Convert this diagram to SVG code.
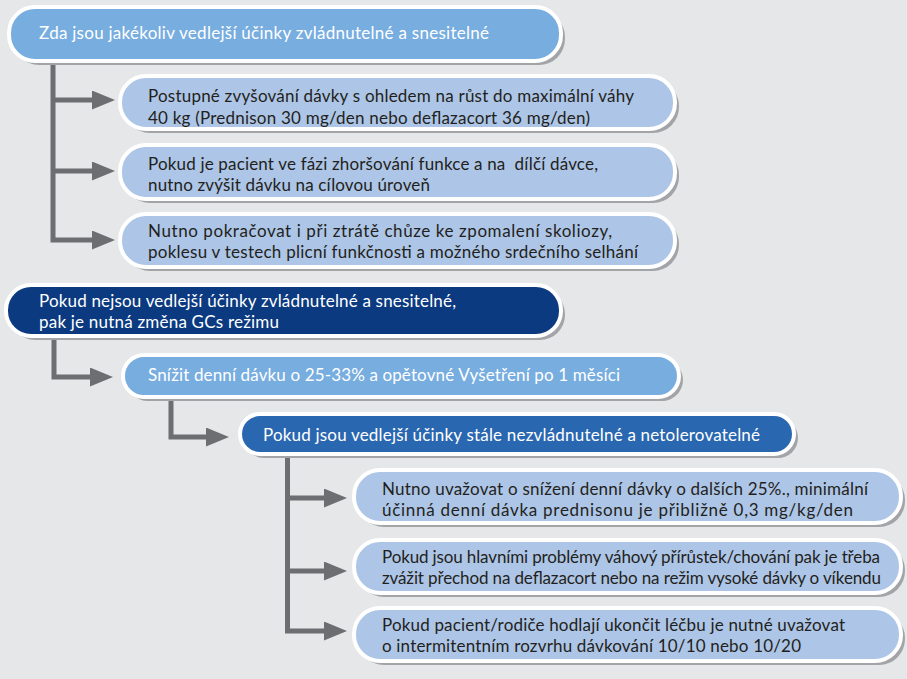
<svg xmlns="http://www.w3.org/2000/svg" width="907" height="679" viewBox="0 0 907 679">
<style>
  .bg { fill: #e6e7e8; }
  .shadow { fill: #a2a4a7; }
  .box { stroke: #ffffff; stroke-width: 4; }
  .light { fill: #77addf; }
  .pale { fill: #adc5e6; }
  .navy { fill: #0b3a80; }
  .mid { fill: #2a67b1; }
  text { font-family: Lato, "Liberation Sans", Arial, sans-serif; font-size: 17px; }
  .tw { fill: #ffffff; }
  .td { fill: #231f20; }
  .conn { fill: none; stroke: #6d6e71; stroke-width: 5; }
</style>
<defs>
  <marker id="arr" viewBox="0 0 23 19" refX="8" refY="9.5" markerWidth="23" markerHeight="19" markerUnits="userSpaceOnUse" orient="auto">
    <path d="M0,0 L23,9.5 L0,19 Z" fill="#6d6e71"/>
  </marker>
</defs>
<rect class="bg" x="0" y="0" width="907" height="679"/>

<g id="connectors">
  <path class="conn" d="M53,63 V240 H100" marker-end="url(#arr)"/>
  <path class="conn" d="M53,100 H100" marker-end="url(#arr)"/>
  <path class="conn" d="M53,171 H100" marker-end="url(#arr)"/>
  <path class="conn" d="M54,338 V377 H98" marker-end="url(#arr)"/>
  <path class="conn" d="M171,399 V437 H214" marker-end="url(#arr)"/>
  <path class="conn" d="M287.5,456 V631 H332" marker-end="url(#arr)"/>
  <path class="conn" d="M287.5,498 H332" marker-end="url(#arr)"/>
  <path class="conn" d="M287.5,571 H332" marker-end="url(#arr)"/>
</g>

<g id="n1">
  <rect class="shadow" x="13" y="11" width="552" height="54" rx="26"/>
  <rect class="box light" x="9" y="7" width="552" height="54" rx="26"/>
  <text class="tw" x="39" y="39" textLength="450">Zda jsou jakékoliv vedlejší účinky zvládnutelné a snesitelné</text>
</g>

<g id="n2">
  <rect class="shadow" x="124" y="80" width="555" height="53" rx="26"/>
  <rect class="box pale" x="120" y="76" width="555" height="53" rx="26"/>
  <text class="td" x="148" y="102" textLength="486">Postupné zvyšování dávky s ohledem na růst do maximální váhy</text>
  <text class="td" x="148" y="124" textLength="442">40 kg (Prednison 30 mg/den nebo deflazacort 36 mg/den)</text>
</g>

<g id="n3">
  <rect class="shadow" x="124" y="149" width="555" height="54" rx="26"/>
  <rect class="box pale" x="120" y="145" width="555" height="54" rx="26"/>
  <text class="td" x="148" y="170" textLength="450" xml:space="preserve">Pokud je pacient ve fázi zhoršování funkce a na  dílčí dávce,</text>
  <text class="td" x="148" y="191" textLength="282">nutno zvýšit dávku na cílovou úroveň</text>
</g>

<g id="n4">
  <rect class="shadow" x="124" y="218" width="555" height="53" rx="26"/>
  <rect class="box pale" x="120" y="214" width="555" height="53" rx="26"/>
  <text class="td" x="148" y="237" textLength="464">Nutno pokračovat i při ztrátě chůze ke zpomalení skoliozy,</text>
  <text class="td" x="148" y="258" textLength="490">poklesu v testech plicní funkčnosti a možného srdečního selhání</text>
</g>

<g id="n5">
  <rect class="shadow" x="10" y="289" width="555" height="51" rx="25"/>
  <rect class="box navy" x="6" y="285" width="555" height="51" rx="25"/>
  <text class="tw" x="39" y="307" textLength="417">Pokud nejsou vedlejší účinky zvládnutelné a snesitelné,</text>
  <text class="tw" x="39" y="328" textLength="240">pak je nutná změna GCs režimu</text>
</g>

<g id="n6">
  <rect class="shadow" x="127" y="359" width="556" height="42" rx="21"/>
  <rect class="box light" x="123" y="355" width="556" height="42" rx="21"/>
  <text class="tw" x="148" y="381" textLength="472">Snížit denní dávku o 25-33% a opětovné Vyšetření po 1 měsíci</text>
</g>

<g id="n7">
  <rect class="shadow" x="244" y="418" width="554" height="40" rx="20"/>
  <rect class="box mid" x="240" y="414" width="554" height="40" rx="20"/>
  <text class="tw" x="263" y="441" textLength="497">Pokud jsou vedlejší účinky stále nezvládnutelné a netolerovatelné</text>
</g>

<g id="n8">
  <rect class="shadow" x="358" y="474" width="547" height="53" rx="26"/>
  <rect class="box pale" x="354" y="470" width="547" height="53" rx="26"/>
  <text class="td" x="382" y="495" textLength="486">Nutno uvažovat o snížení denní dávky o dalších 25%., minimální</text>
  <text class="td" x="382" y="516" textLength="471">účinná denní dávka prednisonu je přibližně 0,3 mg/kg/den</text>
</g>

<g id="n9">
  <rect class="shadow" x="358" y="544" width="547" height="53" rx="26"/>
  <rect class="box pale" x="354" y="540" width="547" height="53" rx="26"/>
  <text class="td" x="382" y="563" textLength="498">Pokud jsou hlavními problémy váhový přírůstek/chování pak je třeba</text>
  <text class="td" x="382" y="584" textLength="499">zvážit přechod na deflazacort nebo na režim vysoké dávky o víkendu</text>
</g>

<g id="n10">
  <rect class="shadow" x="358" y="612" width="547" height="53" rx="26"/>
  <rect class="box pale" x="354" y="608" width="547" height="53" rx="26"/>
  <text class="td" x="382" y="631" textLength="463">Pokud pacient/rodiče hodlají ukončit léčbu je nutné uvažovat</text>
  <text class="td" x="382" y="652" textLength="419">o intermitentním rozvrhu dávkování 10/10 nebo 10/20</text>
</g>
</svg>
